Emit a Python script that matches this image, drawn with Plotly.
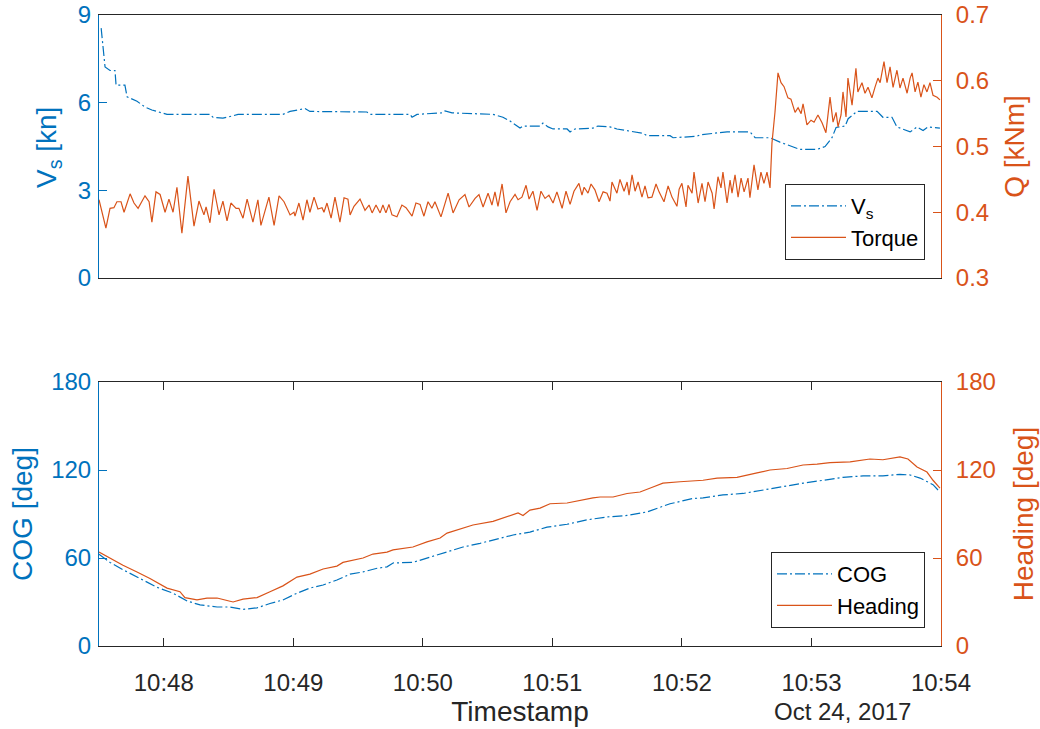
import pandas as pd
import plotly.graph_objects as go

# ---------------- data (seconds after 2017-10-24 10:47:30) ----------------
START = "2017-10-24 10:47:30"

vs_t = [1.0, 2.8, 5.1, 7.4, 7.9, 12.0, 13.0, 17.6, 21.3, 24.5, 31.5, 51.4, 52.8, 57.4,
        62.1, 64.4, 85.2, 88.5, 95.4, 97.7, 124.1, 125.5, 144.1, 145.0, 147.3, 158.9,
        160.3, 163.5, 182.5, 187.1, 190.4, 195.0, 196.4, 204.3, 205.6, 208.0, 210.3,
        216.8, 218.2, 220.5, 228.8, 231.1, 236.7, 239.9, 252.0, 253.8, 264.5, 265.9,
        277.0, 278.4, 290.9, 301.5, 303.9, 310.8, 315.4, 321.0, 324.7, 332.6, 336.3,
        339.5, 341.4, 345.6, 347.0, 351.1, 360.4, 363.1, 367.3, 369.6, 375.7, 378.9,
        381.7, 384.0, 389.5]
vs_kn = [8.55, 7.22, 7.1, 7.1, 6.6, 6.6, 6.2, 6.05, 5.85, 5.75, 5.6, 5.6, 5.5, 5.47,
         5.55, 5.6, 5.6, 5.7, 5.8, 5.7, 5.68, 5.6, 5.6, 5.5, 5.6, 5.65,
         5.72, 5.65, 5.6, 5.5, 5.37, 5.13, 5.2, 5.2, 5.3, 5.17, 5.1,
         5.1, 5.0, 5.1, 5.13, 5.2, 5.17, 5.1, 4.95, 4.87, 4.87, 4.8,
         4.85, 4.9, 5.0, 5.0, 4.8, 4.8, 4.65, 4.5, 4.4, 4.4, 4.5,
         4.8, 5.15, 5.2, 5.45, 5.7, 5.7, 5.5, 5.5, 5.17, 5.0, 5.17,
         5.05, 5.17, 5.13]

q_t = [0.0, 3.2, 5.1, 6.9, 8.3, 10.2, 11.6, 14.4, 16.2, 18.1, 21.3, 23.2, 24.5, 26.4,
       28.3, 30.6, 32.4, 34.3, 36.1, 38.4, 41.2, 44.0, 46.3, 48.6, 49.6, 51.4, 53.3,
       55.6, 57.4, 59.3, 61.1, 63.5, 64.8, 66.7, 68.6, 71.3, 73.6, 75.0, 78.7, 81.1,
       83.4, 85.7, 88.5, 90.3, 90.8, 92.6, 94.5, 96.3, 97.7, 99.6, 101.4, 103.3, 104.2,
       105.6, 107.5, 109.3, 111.6, 113.5, 115.3, 116.3, 118.1, 120.9, 123.2, 125.1,
       126.5, 128.3, 130.2, 131.5, 132.9, 134.3, 135.7, 138.0, 140.3, 142.2, 145.0,
       146.8, 148.7, 150.5, 152.4, 154.2, 155.6, 158.4, 161.7, 164.0, 166.8, 169.5,
       171.4, 174.2, 176.0, 177.9, 180.2, 182.0, 183.4, 184.8, 186.7, 188.5, 190.4,
       192.7, 194.1, 195.9, 197.8, 199.2, 201.0, 202.9, 204.7, 206.6, 208.4, 210.3,
       212.1, 214.5, 216.3, 218.2, 220.0, 222.3, 223.7, 224.7, 226.5, 227.9, 229.7,
       231.6, 233.5, 235.3, 236.7, 237.6, 239.9, 241.3, 243.2, 244.6, 245.5, 246.9,
       248.3, 249.7, 251.5, 252.9, 254.3, 256.1, 258.0, 259.4, 261.7, 263.6, 265.4,
       267.7, 268.7, 270.0, 271.9, 272.8, 274.7, 275.6, 277.5, 279.3, 280.7, 282.1,
       284.0, 284.9, 286.7, 288.1, 289.0, 290.9, 292.3, 293.2, 294.6, 296.0, 297.4,
       298.8, 300.6, 301.5, 303.4, 305.2, 306.6, 308.0, 309.4, 310.8, 311.7, 313.1,
       314.5, 315.9, 317.3, 319.1, 320.5, 322.4, 323.8, 325.2, 326.1, 327.9, 329.8,
       331.2, 333.0, 334.9, 336.7, 338.6, 340.0, 341.4, 342.3, 343.7, 344.6, 346.0,
       346.9, 348.8, 350.6, 351.5, 353.4, 354.8, 356.2, 358.0, 359.4, 360.8, 361.8,
       363.6, 365.0, 366.4, 367.8, 369.6, 371.0, 372.4, 374.3, 375.7, 376.6, 378.0,
       379.3, 380.7, 382.1, 383.5, 384.9, 386.3, 388.2, 389.5]
q_knm = [0.419, 0.376, 0.406, 0.407, 0.416, 0.416, 0.400, 0.428, 0.414, 0.406, 0.425,
         0.416, 0.385, 0.431, 0.427, 0.400, 0.420, 0.400, 0.438, 0.368, 0.455, 0.379,
         0.417, 0.396, 0.408, 0.384, 0.435, 0.396, 0.417, 0.387, 0.414, 0.406, 0.406,
         0.391, 0.420, 0.385, 0.419, 0.380, 0.423, 0.380, 0.425, 0.416, 0.396, 0.400,
         0.394, 0.414, 0.388, 0.419, 0.400, 0.423, 0.405, 0.407, 0.400, 0.414, 0.391,
         0.423, 0.385, 0.422, 0.420, 0.396, 0.409, 0.420, 0.403, 0.411, 0.399, 0.411,
         0.399, 0.411, 0.399, 0.412, 0.396, 0.393, 0.411, 0.407, 0.394, 0.414, 0.412,
         0.394, 0.416, 0.406, 0.416, 0.393, 0.429, 0.399, 0.419, 0.427, 0.408, 0.421,
         0.427, 0.408, 0.429, 0.411, 0.431, 0.409, 0.443, 0.399, 0.416, 0.427, 0.419,
         0.423, 0.441, 0.420, 0.432, 0.403, 0.432, 0.421, 0.426, 0.414, 0.431, 0.406,
         0.432, 0.412, 0.432, 0.444, 0.426, 0.438, 0.429, 0.443, 0.434, 0.416, 0.431,
         0.429, 0.417, 0.446, 0.429, 0.450, 0.432, 0.446, 0.426, 0.457, 0.432, 0.446,
         0.423, 0.440, 0.422, 0.423, 0.443, 0.431, 0.416, 0.440, 0.423, 0.409, 0.435,
         0.444, 0.408, 0.441, 0.429, 0.461, 0.414, 0.444, 0.416, 0.446, 0.429, 0.405,
         0.454, 0.437, 0.461, 0.414, 0.449, 0.429, 0.457, 0.423, 0.452, 0.431, 0.452,
         0.422, 0.472, 0.434, 0.461, 0.444, 0.461, 0.437, 0.505, 0.552, 0.612, 0.597,
         0.591, 0.574, 0.572, 0.552, 0.559, 0.550, 0.565, 0.533, 0.540, 0.537, 0.548,
         0.536, 0.521, 0.575, 0.537, 0.552, 0.530, 0.548, 0.583, 0.545, 0.604, 0.563,
         0.619, 0.583, 0.597, 0.581, 0.590, 0.574, 0.590, 0.604, 0.597, 0.629, 0.597,
         0.621, 0.590, 0.616, 0.589, 0.604, 0.581, 0.604, 0.612, 0.583, 0.598, 0.575,
         0.594, 0.583, 0.597, 0.578, 0.575, 0.571]

hdg_t = [0.0, 5.1, 11.1, 17.6, 23.6, 31.5, 37.5, 39.8, 45.4, 50.0, 54.7, 59.3, 62.1,
         66.7, 73.2, 79.2, 85.2, 91.7, 97.7, 103.8, 110.2, 113.0, 122.3, 126.9, 133.4,
         136.2, 145.4, 151.9, 158.0, 161.2, 168.6, 173.2, 182.5, 189.0, 194.1, 196.4,
         199.6, 204.3, 208.9, 216.8, 222.8, 228.8, 232.1, 238.1, 244.6, 250.6, 256.6,
         261.2, 269.1, 279.8, 286.3, 295.5, 304.8, 310.8, 318.7, 326.1, 332.6, 338.6,
         347.9, 357.1, 363.1, 371.0, 374.7, 378.9, 383.5, 386.3, 389.5]
hdg_deg = [64.0, 60.0, 55.0, 50.5, 46.0, 39.5, 37.0, 33.0, 31.4, 32.7, 32.7, 31.0, 30.0,
           32.0, 33.0, 37.0, 41.0, 47.0, 49.0, 52.5, 54.5, 57.0, 60.0, 62.7, 64.0,
           65.5, 67.5, 71.0, 73.6, 77.0, 80.5, 82.5, 85.0, 88.0, 90.7, 89.0,
           92.7, 94.0, 97.0, 97.5, 99.5, 101.0, 101.6, 101.6, 104.0, 105.0, 108.4,
           111.0, 112.0, 113.0, 114.5, 115.0, 118.0, 120.0, 121.0, 123.4, 124.0, 125.0,
           125.5, 127.5, 127.0, 129.0, 127.5, 122.0, 118.6, 113.0, 107.7]

cog_t = [0.0, 5.1, 11.1, 19.0, 26.9, 34.3, 40.8, 46.8, 54.7, 60.7, 66.7, 73.2, 79.2,
         85.2, 91.7, 97.7, 103.8, 110.2, 116.3, 122.3, 128.8, 133.4, 136.2, 145.4,
         153.3, 161.2, 168.6, 176.5, 184.4, 191.8, 199.6, 207.5, 216.8, 226.0, 235.3,
         244.6, 253.8, 263.1, 264.5, 269.1, 274.7, 279.8, 289.0, 298.3, 307.6, 316.8,
         326.1, 335.4, 344.6, 353.9, 363.1, 371.0, 375.7, 380.3, 386.3, 389.5]
cog_deg = [62.5, 57.0, 52.0, 46.0, 40.0, 36.0, 30.7, 28.0, 26.6, 26.6, 25.0, 26.0, 29.0,
           31.4, 36.0, 39.5, 41.6, 45.0, 49.0, 50.5, 53.0, 54.0, 56.6, 57.0,
           60.7, 64.0, 67.5, 70.0, 73.0, 75.7, 77.7, 81.0, 83.0, 86.0, 88.0,
           89.0, 91.4, 96.0, 97.0, 98.5, 100.5, 101.0, 103.0, 104.0, 106.4, 108.4,
           111.0, 113.0, 115.0, 116.0, 116.0, 117.0, 116.6, 114.5, 110.0, 105.0]

x_tick_labels = ["10:48", "10:49", "10:50", "10:51", "10:52", "10:53", "10:54"]
vs_ticks = [0, 3, 6, 9]
q_ticks = [0.3, 0.4, 0.5, 0.6, 0.7]
deg_ticks = [0, 60, 120, 180]

# ---------------- build ----------------
base = pd.Timestamp(START)
def ts(sec):
    return base + pd.to_timedelta(sec, unit="s")

BLUE = "#0072BD"
ORANGE = "#D95319"
DARK = "#262626"
FONT = "Liberation Sans"
TICK = 24
LAB = 28
DASHDOT = "10px,3px,2px,3px"

W, H = 1040, 729
def px(X):
    return X / W
def py(Y):
    return 1 - Y / H

x_end = ts(390)
x_tickvals = [pd.Timestamp("2017-10-24 " + s + ":00") for s in x_tick_labels]

fig = go.Figure()
fig.add_trace(go.Scatter(x=ts(vs_t), y=vs_kn, mode="lines", name="V<sub>s</sub>",
                         line=dict(color=BLUE, width=1.2, dash=DASHDOT),
                         xaxis="x", yaxis="y", legend="legend"))
fig.add_trace(go.Scatter(x=ts(q_t), y=q_knm, mode="lines", name="Torque",
                         line=dict(color=ORANGE, width=1.2),
                         xaxis="x", yaxis="y2", legend="legend"))
fig.add_trace(go.Scatter(x=ts(cog_t), y=cog_deg, mode="lines", name="COG",
                         line=dict(color=BLUE, width=1.2, dash=DASHDOT),
                         xaxis="x2", yaxis="y3", legend="legend2"))
fig.add_trace(go.Scatter(x=ts(hdg_t), y=hdg_deg, mode="lines", name="Heading",
                         line=dict(color=ORANGE, width=1.2),
                         xaxis="x2", yaxis="y4", legend="legend2"))

XD = [px(99), px(941)]
TOPD = [py(278), py(15)]
BOTD = [py(646), py(382)]

def yax(color, rng, tickvals, domain=None, side="left", overlay=None, anchor="x",
        title="", fmt=None, standoff=10):
    d = dict(range=rng, tickvals=tickvals, ticks="inside", ticklen=8, tickwidth=1,
             tickcolor=color, color=color, showline=True, linecolor=color, linewidth=1,
             showgrid=False, zeroline=False, side=side, anchor=anchor,
             tickfont=dict(family=FONT, size=TICK, color=color),
             title=dict(text=title, font=dict(family=FONT, size=LAB, color=color),
                        standoff=standoff),
             automargin=False, ticklabelstandoff=2 if side == "left" else 9,
             ticklabeloverflow="allow", fixedrange=True)
    if domain is not None:
        d["domain"] = domain
    if overlay is not None:
        d["overlaying"] = overlay
    if fmt is not None:
        d["tickformat"] = fmt
    return d

legend_common = dict(xanchor="right", yanchor="bottom", bgcolor="white",
                     bordercolor=DARK, borderwidth=1, itemwidth=55,
                     font=dict(family=FONT, size=22, color="black"))

fig.update_layout(
    width=W, height=H,
    margin=dict(l=0, r=0, t=0, b=0),
    paper_bgcolor="white", plot_bgcolor="white",
    font=dict(family=FONT, size=TICK, color=DARK),
    xaxis=dict(domain=XD, anchor="y", range=[ts(0), x_end], showticklabels=False,
               ticks="", showline=True, mirror=True, linecolor=DARK, linewidth=1,
               showgrid=False, zeroline=False, automargin=False, fixedrange=True),
    xaxis2=dict(domain=XD, anchor="y3", range=[ts(0), x_end], tickvals=x_tickvals,
                ticktext=x_tick_labels, ticks="inside", ticklen=8, tickcolor=DARK,
                showline=True, mirror="ticks", linecolor=DARK, linewidth=1,
                showgrid=False, zeroline=False, automargin=False, fixedrange=True,
                tickfont=dict(family=FONT, size=TICK, color=DARK), ticklabelstandoff=15,
                ticklabeloverflow="allow",
                title=dict(text="Timestamp", font=dict(family=FONT, size=LAB, color=DARK),
                           standoff=6)),
    yaxis=yax(BLUE, [0, 9], vs_ticks, domain=TOPD, title=""),
    yaxis2=yax(ORANGE, [0.3, 0.7], q_ticks, side="right", overlay="y", title="Q [kNm]",
               fmt=".1f", standoff=16),
    yaxis3=yax(BLUE, [0, 180], deg_ticks, domain=BOTD, anchor="x2", title="COG [deg]"),
    yaxis4=yax(ORANGE, [0, 180], deg_ticks, side="right", overlay="y3", anchor="x2",
               title="Heading [deg]", standoff=18),
    legend=dict(x=px(925), y=py(260), **legend_common),
    legend2=dict(x=px(925), y=py(628), **legend_common),
    annotations=[
        dict(text="Oct 24, 2017", x=px(842), y=py(711), xanchor="center",
             yanchor="middle", xref="paper", yref="paper", showarrow=False,
             font=dict(family=FONT, size=TICK, color=DARK)),
        dict(text="V<sub>s</sub> [kn]", x=px(48), y=py(148), xanchor="center",
             yanchor="middle", xref="paper", yref="paper", showarrow=False,
             textangle=-90, font=dict(family=FONT, size=LAB, color=BLUE)),
    ],
    showlegend=True,
    hovermode=False,
)

# remove the default 8px page margin so the 1040x729 figure fills the window
fig.write_html("out.html", config={"displayModeBar": False},
               post_script="document.body.style.margin='0px';")
